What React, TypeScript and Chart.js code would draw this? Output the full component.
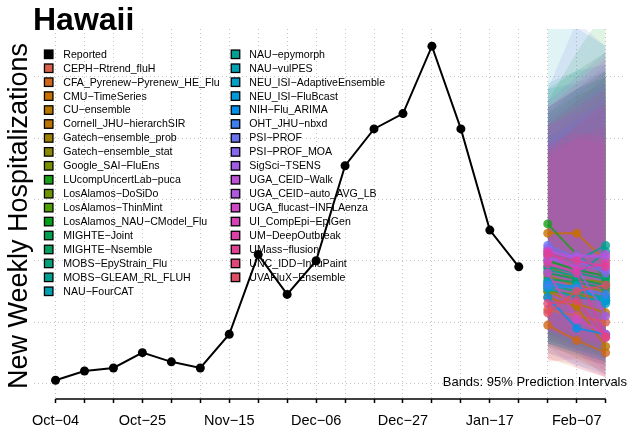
import { useEffect, useRef } from "react";
import { Chart, registerables } from "chart.js";

Chart.register(...registerables);

// ---------- data ----------
const weekLabels = [
  "Oct−04", "Oct−11", "Oct−18", "Oct−25", "Nov−01", "Nov−08", "Nov−15",
  "Nov−22", "Nov−29", "Dec−06", "Dec−13", "Dec−20", "Dec−27", "Jan−03",
  "Jan−10", "Jan−17", "Jan−24", "Jan−31", "Feb−07", "Feb−14",
];
const labelEvery = 3;

const reportedCounts = [21, 24, 25, 30, 27, 25, 36, 62, 49, 60, 91, 103, 108, 130, 103, 70, 58];

const forecastDates = ["Jan−31", "Feb−07", "Feb−14"];

const modelNames = [
  "CEPH−Rtrend_fluH", "CFA_Pyrenew−Pyrenew_HE_Flu", "CMU−TimeSeries", "CU−ensemble",
  "Cornell_JHU−hierarchSIR", "Gatech−ensemble_prob", "Gatech−ensemble_stat", "Google_SAI−FluEns",
  "LUcompUncertLab−puca", "LosAlamos−DoSiDo", "LosAlamos−ThinMint", "LosAlamos_NAU−CModel_Flu",
  "MIGHTE−Joint", "MIGHTE−Nsemble", "MOBS−EpyStrain_Flu", "MOBS−GLEAM_RL_FLUH", "NAU−FourCAT",
  "NAU−epymorph", "NAU−vulPES", "NEU_ISI−AdaptiveEnsemble", "NEU_ISI−FluBcast", "NIH−Flu_ARIMA",
  "OHT_JHU−nbxd", "PSI−PROF", "PSI−PROF_MOA", "SigSci−TSENS", "UGA_CEID−Walk",
  "UGA_CEID−auto_AVG_LB", "UGA_flucast−INFLAenza", "UI_CompEpi−EpiGen", "UM−DeepOutbreak",
  "UMass−flusion", "UNC_IDD−InfluPaint", "UVAFluX−Ensemble",
];

const medianJan31 = [44, 39, 69, 50, 48, 52, 55, 58, 72, 50, 53, 60, 56, 54, 58, 62, 51, 57, 52, 51, 53, 48, 52, 65, 64, 61, 63, 60, 56, 63, 59, 62, 46, 43];
const medianFeb07 = [42, 34, 69, 46, 45, 50, 52, 54, 62, 49, 50, 57, 54, 53, 56, 60, 48, 55, 50, 52, 51, 38, 51, 61, 60, 58, 61, 62, 41, 57, 56, 60, 47, 50];
const medianFeb14 = [40, 30, 60, 43, 32, 47, 50, 53, 55, 47, 48, 55, 52, 51, 54, 65, 47, 63, 48, 46, 47, 36, 49, 57, 56, 42, 62, 61, 36, 59, 35, 58, 35, 52];

const lowerJan31 = [30, 28, 38, 32, 33, 34, 36, 35, 40, 33, 34, 36, 34, 33, 36, 38, 32, 35, 33, 34, 33, 30, 33, 40, 39, 37, 38, 37, 32, 38, 35, 37, 28, 27];
const lowerFeb07 = [27, 25, 34, 29, 28, 31, 33, 32, 33, 30, 31, 32, 31, 30, 33, 35, 29, 32, 30, 31, 30, 26, 30, 36, 35, 31, 35, 35, 25, 33, 30, 34, 26, 28];
const lowerFeb14 = [24, 22, 30, 26, 23, 28, 30, 29, 28, 27, 28, 29, 28, 27, 30, 34, 26, 33, 27, 28, 27, 23, 27, 32, 31, 24, 33, 32, 22, 31, 22, 31, 22, 26];

const upperJan31 = [98, 92, 110, 100, 96, 104, 100, 108, 116, 104, 106, 112, 108, 110, 110, 118, 140, 116, 102, 98, 100, 94, 100, 116, 106, 104, 112, 110, 96, 110, 98, 104, 94, 96];
const upperFeb07 = [104, 98, 116, 108, 102, 112, 106, 114, 122, 112, 114, 128, 116, 116, 116, 122, 136, 118, 110, 104, 106, 100, 106, 138, 112, 108, 120, 116, 100, 118, 102, 110, 100, 104];
const upperFeb14 = [110, 104, 122, 116, 106, 120, 112, 118, 128, 120, 122, 142, 122, 120, 120, 124, 130, 122, 118, 110, 112, 104, 114, 130, 118, 110, 128, 124, 98, 126, 100, 116, 104, 112];

const yGridValues = [20, 40, 60, 80, 100, 120];

// ---------- styles ----------
const modelColors = [
  "#D9604A", "#D0661A", "#C87000", "#B87800", "#BC7400", "#A08000", "#8C8A00", "#7A9000",
  "#18A018", "#6E9400", "#50A000", "#00A21A", "#00A050", "#00A060", "#00A078", "#00A090",
  "#00A0B0", "#00A095", "#00A2B4", "#00A0C8", "#009ADA", "#0090EC", "#3C80F0", "#6A72F0",
  "#8866F0", "#A05CE4", "#C050D8", "#AE58E0", "#D048C8", "#D840B8", "#DA40A8", "#E04094",
  "#E0467C", "#E04E64",
];

const FONT = "'Liberation Sans', Arial, Helvetica, sans-serif";

function rgba(hex: string, a: number) {
  const n = parseInt(hex.slice(1), 16);
  return `rgba(${(n >> 16) & 255},${(n >> 8) & 255},${n & 255},${a})`;
}

const decorPlugin = {
  id: "decor",
  beforeDatasetsDraw(chart: any) {
    const { ctx, chartArea } = chart;
    ctx.save();
    const entries = [{ name: "Reported", color: "#000000" }].concat(
      modelNames.map((n, i) => ({ name: n, color: modelColors[i] }))
    );
    const perCol = 18;
    const colSquareX = [chartArea.left + 14.7, chartArea.left + 201.5];
    const colTextX = [chartArea.left + 29.3, chartArea.left + 215.3];
    const rowTop = chartArea.top + 25.3;
    const rowStep = 13.94;
    ctx.font = `10.6px ${FONT}`;
    ctx.textBaseline = "middle";
    ctx.textAlign = "left";
    entries.forEach((e, k) => {
      const col = k < perCol ? 0 : 1;
      const row = k < perCol ? k : k - perCol;
      const cy = rowTop + row * rowStep;
      const cx = colSquareX[col];
      const s = 8.5;
      ctx.fillStyle = e.color;
      ctx.fillRect(cx - s / 2, cy - s / 2, s, s);
      ctx.lineWidth = 1.3;
      ctx.strokeStyle = "#000";
      ctx.strokeRect(cx - s / 2, cy - s / 2, s, s);
      ctx.fillStyle = "#000";
      ctx.fillText(e.name, colTextX[col], cy + 0.5);
    });
    ctx.restore();
  },
  afterDraw(chart: any) {
    const { ctx, chartArea, scales } = chart;
    const x = scales.x;
    ctx.save();
    ctx.strokeStyle = "#000";
    ctx.lineWidth = 1.5;
    ctx.beginPath();
    ctx.moveTo(x.getPixelForValue(0), chartArea.bottom);
    ctx.lineTo(x.getPixelForValue(weekLabels.length - 1), chartArea.bottom);
    ctx.stroke();
    ctx.fillStyle = "#000";
    ctx.font = `bold 32px ${FONT}`;
    ctx.textAlign = "left";
    ctx.textBaseline = "alphabetic";
    ctx.fillText("Hawaii", 33, 30);
    ctx.save();
    ctx.translate(27, (chartArea.top + chartArea.bottom) / 2 + 2);
    ctx.rotate(-Math.PI / 2);
    ctx.font = `27px ${FONT}`;
    ctx.textAlign = "center";
    ctx.fillText("New Weekly Hospitalizations", 0, 0);
    ctx.restore();
    ctx.font = `13px ${FONT}`;
    ctx.textAlign = "right";
    ctx.textBaseline = "middle";
    ctx.fillText("Bands: 95% Prediction Intervals", 627, 382.5);
    ctx.restore();
  },
};

export default function App() {
  const canvasRef = useRef<HTMLCanvasElement | null>(null);

  useEffect(() => {
    const canvas = canvasRef.current;
    if (!canvas) return;
    const fx = forecastDates.map((d) => weekLabels.indexOf(d));
    const meds = [medianJan31, medianFeb07, medianFeb14];
    const lows = [lowerJan31, lowerFeb07, lowerFeb14];
    const ups = [upperJan31, upperFeb07, upperFeb14];

    const datasets: any[] = [];
    modelNames.forEach((name, i) => {
      datasets.push({
        label: name + " upper",
        data: fx.map((xv, j) => ({ x: xv, y: ups[j][i] })),
        borderWidth: 0,
        borderColor: "transparent",
        pointRadius: 0,
        backgroundColor: rgba(modelColors[i], 0.12),
        fill: "+1",
        order: 1000 - i,
      });
      datasets.push({
        label: name + " lower",
        data: fx.map((xv, j) => ({ x: xv, y: lows[j][i] })),
        borderWidth: 0,
        borderColor: "transparent",
        pointRadius: 0,
        fill: false,
        order: 1000 - i,
      });
    });
    modelNames.forEach((name, i) => {
      datasets.push({
        label: name,
        data: fx.map((xv, j) => ({ x: xv, y: meds[j][i] })),
        borderColor: rgba(modelColors[i], 0.8),
        backgroundColor: rgba(modelColors[i], 0.8),
        pointBackgroundColor: rgba(modelColors[i], 0.8),
        pointBorderColor: rgba(modelColors[i], 0.8),
        borderWidth: 2,
        pointRadius: 4.5,
        pointBorderWidth: 0,
        fill: false,
        order: 500 - i,
      });
    });
    datasets.push({
      label: "Reported",
      data: reportedCounts.map((v, i) => ({ x: i, y: v })),
      borderColor: "#000",
      backgroundColor: "#000",
      pointBackgroundColor: "#000",
      borderWidth: 2,
      pointRadius: 4.5,
      pointBorderWidth: 0,
      fill: false,
      order: 0,
    });

    const chart = new Chart(canvas, {
      type: "line",
      data: { datasets },
      options: {
        responsive: false,
        maintainAspectRatio: false,
        devicePixelRatio: 1,
        animation: false,
        layout: { padding: { left: 34, top: 29, right: 0, bottom: 0 } },
        elements: { line: { tension: 0 } },
        plugins: {
          legend: { display: false },
          title: { display: false },
          tooltip: { enabled: false },
        },
        scales: {
          x: {
            type: "linear",
            min: -0.744,
            max: 19.651,
            afterBuildTicks: (axis: any) => {
              axis.ticks = weekLabels.map((_, i) => ({ value: i }));
            },
            afterFit: (axis: any) => {
              axis.height = 33;
            },
            ticks: {
              autoSkip: false,
              maxRotation: 0,
              minRotation: 0,
              padding: 9,
              color: "#000",
              font: { family: FONT, size: 14.5 },
              callback: (v: any) => (Number(v) % labelEvery === 0 ? weekLabels[Number(v)] : ""),
            },
            grid: {
              color: "#c4c4c4",
              lineWidth: 1,
              drawTicks: true,
              tickLength: 4,
              tickColor: "#000",
              tickWidth: 1.5,
              tickBorderDash: [1, 0],
            },
            border: { display: false, dash: [1, 3] },
          },
          y: {
            type: "linear",
            min: 14.88,
            max: 135.6,
            afterBuildTicks: (axis: any) => {
              axis.ticks = yGridValues.map((v) => ({ value: v }));
            },
            ticks: { display: false },
            grid: {
              color: "#c4c4c4",
              lineWidth: 1,
              drawTicks: false,
            },
            border: { display: false, dash: [1, 3] },
          },
        },
      },
      plugins: [decorPlugin],
    } as any);

    return () => chart.destroy();
  }, []);

  return (
    <div style={{ position: "fixed", left: 0, top: 0, width: 629, height: 432, background: "#fff" }}>
      <canvas ref={canvasRef} width={629} height={432} style={{ display: "block" }} />
    </div>
  );
}
